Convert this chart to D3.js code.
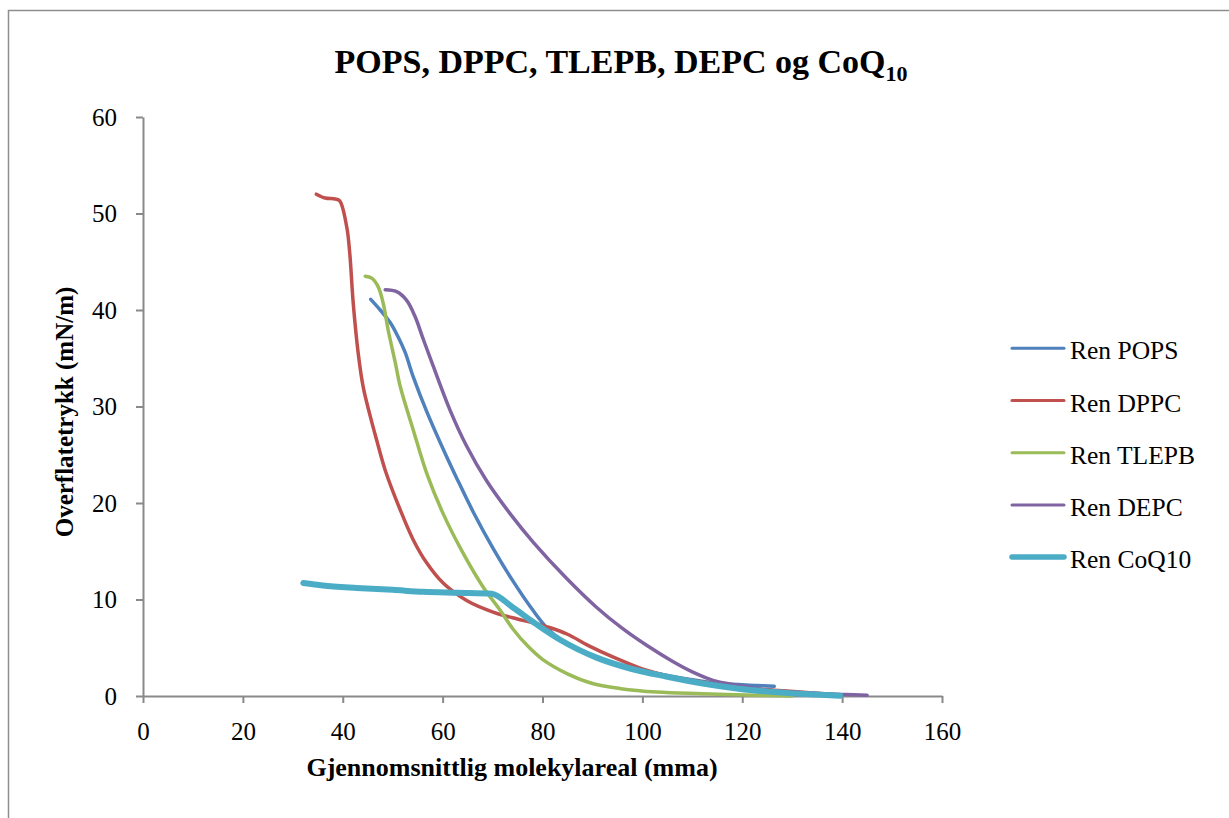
<!DOCTYPE html>
<html>
<head>
<meta charset="utf-8">
<script src="https://cdn.jsdelivr.net/npm/d3@7"></script>
<style>
  body { margin: 0; background: #fff; }
  svg { display: block; }
</style>
</head>
<body>
<div id="chart"></div>
<script>
// Isotherms: surface pressure (mN/m) vs mean molecular area (mma)

var seriesNames = ["Ren POPS", "Ren DPPC", "Ren TLEPB", "Ren DEPC", "Ren CoQ10"];
var seriesColors = ["#4F81BD", "#C0504D", "#9BBB59", "#8064A2", "#4BACC6"];

var xTicks = [0, 20, 40, 60, 80, 100, 120, 140, 160];
var yTicks = [0, 10, 20, 30, 40, 50, 60];

// [area, pressure]
var pops = [[45.6,41.1],[47.5,40.0],[49.5,38.7],[51.0,37.3],[52.5,35.6],[54.1,33.1],[56.8,29.5],
  [60.1,25.6],[62.8,22.6],[66.1,19.1],[70.1,15.3],[74.1,11.9],[78.2,8.8],[81,7.0],[84,5.7],
  [87,4.8],[90.5,4.1],[94.3,3.4],[101.4,2.5],[108.6,1.8],[115.7,1.3],[122.9,1.1],[126.4,1.0]];

var dppc = [[34.7,52.0],[36.5,51.6],[38.5,51.5],[39.4,51.3],[40.8,48.6],[41.4,45.9],[42.1,40.7],
  [43.1,35.5],[44.1,32.0],[45.5,29.0],[46.8,26.5],[48.5,23.4],[51.5,19.3],[54.1,16.2],[56.8,13.8],
  [60.1,11.7],[64.8,9.9],[70.1,8.7],[74.8,8.0],[78,7.6],[81.4,7.1],[85,6.4],[89.3,5.2],[94.3,4.0],
  [100,2.8],[105.7,2.0],[112.1,1.45],[119.3,0.9],[126.4,0.6],[133.6,0.35],[139.3,0.1]];

var tlepb = [[44.5,43.5],[45.8,43.3],[47.1,42.4],[48.1,40.7],[49.1,37.9],[50.5,34.6],[51.5,32.1],
  [54.1,27.6],[56.8,23.1],[60.1,18.9],[64.1,14.8],[68.1,11.3],[71.5,8.9],[74,7.0],[77,5.2],
  [80,3.8],[85,2.3],[90,1.3],[95.7,0.76],[102.9,0.41],[112.1,0.24],[122.9,0.07],[130,0.0]];

var depc = [[48.5,42.1],[50.8,41.9],[52.8,41.0],[54.5,39.3],[56.1,37.0],[58.1,34.2],[61.5,29.6],
  [64.8,25.9],[68.8,22.3],[73.5,18.9],[78.2,15.9],[84.8,12.2],[90.8,9.2],[96,7.0],[101,5.2],
  [106,3.6],[110,2.5],[114.3,1.6],[119.3,1.1],[125,0.6],[130,0.4],[135,0.25],[140.7,0.15],[145,0.07]];

var coq10 = [[32.1,11.7],[36,11.45],[42.8,11.2],[50,11.0],[56.1,10.8],[63,10.7],[69.8,10.6],
  [74,9.2],[78.6,7.5],[83.6,5.8],[90.7,4.0],[97.9,2.8],[105,2.0],[112.1,1.3],[119.3,0.76],
  [126.4,0.41],[133.6,0.17],[139.6,0.03]];

var allSeries = [pops, dppc, tlepb, depc, coq10];
var lineWidths = [3.5, 3.5, 3.5, 3.5, 6];

var width = 1229, height = 818;

var svg = d3.select("#chart")
  .append("svg")
  .attr("width", width)
  .attr("height", height);

// outer frame
svg.append("rect")
  .attr("x", 8.5).attr("y", 10.5)
  .attr("width", 1400).attr("height", 1000)
  .attr("fill", "none")
  .attr("stroke", "#8e8e8e")
  .attr("stroke-width", 1.5);

var xScale = d3.scaleLinear().domain([0, 160]).range([143, 942]);
var yScale = d3.scaleLinear().domain([0, 60]).range([696, 117]);

var serif = "'Liberation Serif', 'Times New Roman', serif";

// axes
var xAxis = svg.append("g")
  .attr("transform", "translate(0," + yScale(0) + ")")
  .call(d3.axisBottom(xScale).tickValues(xTicks).tickSize(7).tickSizeOuter(0).tickPadding(19));

var yAxis = svg.append("g")
  .attr("transform", "translate(" + xScale(0) + ",0)")
  .call(d3.axisLeft(yScale).tickValues(yTicks).tickSize(7).tickSizeOuter(0).tickPadding(19));

[xAxis, yAxis].forEach(function(ax) {
  ax.select(".domain").attr("stroke", "#898989").attr("stroke-width", 2);
  ax.selectAll(".tick line").attr("stroke", "#898989").attr("stroke-width", 2);
  ax.selectAll(".tick text")
    .attr("fill", "#000")
    .style("font-family", serif)
    .style("font-size", "25px");
});

// lines
var line = d3.line()
  .x(function(d) { return xScale(d[0]); })
  .y(function(d) { return yScale(d[1]); })
  .curve(d3.curveCatmullRom.alpha(0.5));

// monotone keeps the CoQ10 kink sharp
var lineCoq = d3.line()
  .x(function(d) { return xScale(d[0]); })
  .y(function(d) { return yScale(d[1]); })
  .curve(d3.curveMonotoneX);

svg.selectAll(".series")
  .data(allSeries)
  .enter().append("path")
  .attr("class", "series")
  .attr("d", function(d, i) { return i === 4 ? lineCoq(d) : line(d); })
  .attr("fill", "none")
  .attr("stroke", function(d, i) { return seriesColors[i]; })
  .attr("stroke-width", function(d, i) { return lineWidths[i]; })
  .attr("stroke-linecap", "round")
  .attr("stroke-linejoin", "round");

// title
var title = svg.append("text")
  .attr("x", 621)
  .attr("y", 73)
  .attr("text-anchor", "middle")
  .style("font-family", serif)
  .style("font-weight", "bold")
  .style("font-size", "34px");
title.append("tspan").text("POPS, DPPC, TLEPB, DEPC og CoQ");
title.append("tspan").attr("dy", 8).style("font-size", "22px").text("10");

// axis titles
svg.append("text")
  .attr("x", 512)
  .attr("y", 776)
  .attr("text-anchor", "middle")
  .style("font-family", serif)
  .style("font-weight", "bold")
  .style("font-size", "26px")
  .text("Gjennomsnittlig molekylareal (mma)");

svg.append("text")
  .attr("transform", "translate(73,412) rotate(-90)")
  .attr("text-anchor", "middle")
  .style("font-family", serif)
  .style("font-weight", "bold")
  .style("font-size", "25px")
  .text("Overflatetrykk (mN/m)");

// legend
var legend = svg.selectAll(".legend")
  .data(seriesNames)
  .enter().append("g")
  .attr("class", "legend")
  .attr("transform", function(d, i) { return "translate(0," + (348.3 + i * 52.2) + ")"; });

legend.append("line")
  .attr("x1", 1012).attr("x2", 1064)
  .attr("y1", 0).attr("y2", 0)
  .attr("stroke", function(d, i) { return seriesColors[i]; })
  .attr("stroke-width", function(d, i) { return lineWidths[i] - 0.5; })
  .attr("stroke-linecap", "round");

legend.append("text")
  .attr("x", 1070)
  .attr("y", 11)
  .style("font-family", serif)
  .style("font-size", "25.5px")
  .text(function(d) { return d; });
</script>
</body>
</html>
